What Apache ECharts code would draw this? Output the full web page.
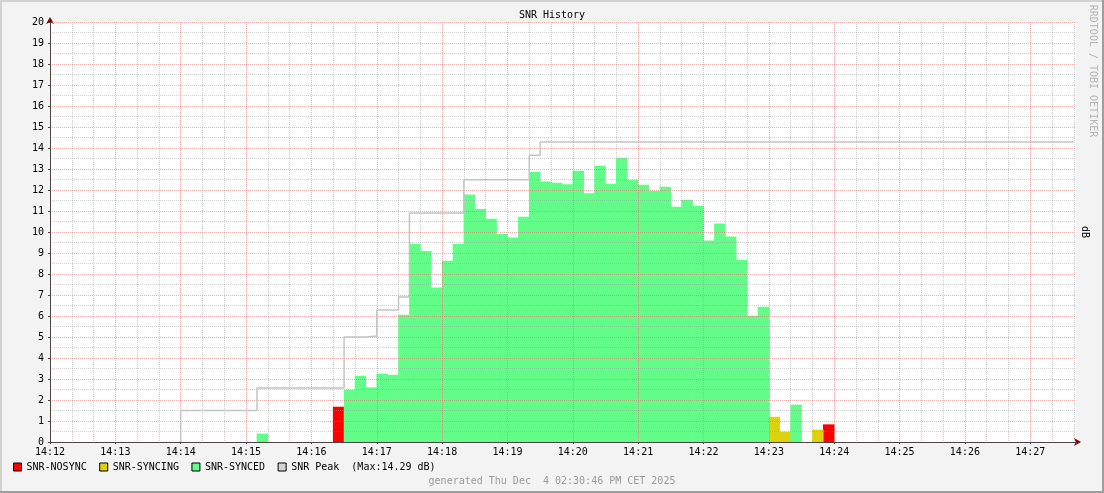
<!DOCTYPE html>
<html>
<head>
<meta charset="utf-8">
<title>SNR History</title>
<script src="https://cdn.jsdelivr.net/npm/echarts@6/dist/echarts.min.js"></script>
<style>
  html, body { margin: 0; padding: 0; background: #f3f3f3; }
  #chart { width: 1104px; height: 493px; }
</style>
</head>
<body>
<div id="chart"></div>
<script>
// start of each 10 s sample, in seconds after 14:12:00
const nosyncStart = [260, 710];
const nosyncSnr = [1.68, 0.84];

const syncingStart = [660, 670, 700];
const syncingSnr = [1.2, 0.49, 0.59];

const syncedStart = [190,
  270, 280, 290, 300, 310, 320, 330, 340, 350, 360,
  370, 380, 390, 400, 410, 420, 430, 440, 450, 460,
  470, 480, 490, 500, 510, 520, 530, 540, 550, 560,
  570, 580, 590, 600, 610, 620, 630, 640, 650,
  680];
const syncedSnr = [0.4,
  2.49, 3.16, 2.6, 3.25, 3.2, 6.06, 9.44, 9.1, 7.36, 8.63,
  9.44, 11.78, 11.1, 10.63, 9.92, 9.74, 10.73, 12.87, 12.4, 12.35,
  12.27, 12.92, 11.84, 13.16, 12.3, 13.54, 12.49, 12.25, 11.97, 12.16,
  11.2, 11.54, 11.25, 9.59, 10.4, 9.78, 8.68, 6.01, 6.44,
  1.78];

// peak holds its value from each start until the next one
const peakStart = [120, 120, 190, 270, 290, 300, 320, 330, 380, 440, 450, 940];
const peakSnr = [0, 1.5, 2.57, 5.0, 5.05, 6.28, 6.9, 10.9, 12.49, 13.65, 14.29, 14.29];

const timeTicks = ['14:12', '14:13', '14:14', '14:15', '14:16', '14:17', '14:18', '14:19',
  '14:20', '14:21', '14:22', '14:23', '14:24', '14:25', '14:26', '14:27'];

const STEP = 10;       // seconds per sample
const X_MAX = 942;     // visible window in seconds
const GRID_W = 1026;
const MONO = 'DejaVu Sans Mono';

const toBars = (starts, vals) => starts.map((s, k) => [s + STEP / 2, vals[k]]);
// a little wider than one sample so neighbouring bars don't leave seams
const barW = GRID_W * STEP / X_MAX + 0.6;
const peakMax = Math.max(...peakSnr).toFixed(2);

const majorGrid = 'rgba(228,110,110,0.55)';
const minorGrid = 'rgba(150,150,150,0.45)';
const axisColor = '#4a4444';
const arrowColor = '#860000';

const chart = echarts.init(document.getElementById('chart'));

chart.setOption({
  backgroundColor: '#f3f3f3',
  animation: false,
  title: {
    text: 'SNR History',
    left: 'center',
    top: 10,
    padding: 0,
    textStyle: { fontFamily: MONO, fontSize: 10, fontWeight: 'normal', color: '#000' }
  },
  legend: {
    left: 13,
    top: 462,
    padding: 0,
    itemWidth: 8,
    itemHeight: 8,
    itemGap: 12.5,
    icon: 'rect',
    itemStyle: { borderColor: '#000', borderWidth: 1 },
    textStyle: { fontFamily: MONO, fontSize: 10, color: '#000' },
    data: ['SNR-NOSYNC', 'SNR-SYNCING', 'SNR-SYNCED',
      { name: 'SNR Peak', itemStyle: { color: '#d4d4d4', borderColor: '#000', borderWidth: 1 } }],
    formatter: name => name === 'SNR Peak' ? 'SNR Peak  (Max:' + peakMax + ' dB)' : name
  },
  grid: {
    left: 50, top: 22, width: GRID_W, height: 420,
    show: true, backgroundColor: '#fff', borderWidth: 0
  },
  xAxis: [{
    type: 'value',
    min: 0, max: X_MAX, interval: 60,
    z: 3,
    axisLine: { lineStyle: { color: axisColor, width: 1 } },
    axisTick: { show: true, length: 2, lineStyle: { color: axisColor } },
    axisLabel: {
      margin: 5,
      fontFamily: MONO, fontSize: 10, color: '#000',
      formatter: v => (v % 60 === 0 ? timeTicks[v / 60] || '' : '')
    },
    splitLine: { show: true, showMaxLine: false, lineStyle: { color: majorGrid, type: [1, 1] } }
  }, {
    // 20 s grid and the red arrow head
    type: 'value',
    min: 0, max: X_MAX, interval: 20,
    position: 'bottom',
    z: 1,
    axisLine: {
      show: true,
      lineStyle: { color: arrowColor, width: 1 },
      symbol: ['none', 'arrow'], symbolSize: [6, 7], symbolOffset: [0, 5]
    },
    axisTick: { show: false },
    axisLabel: { show: false },
    splitLine: {
      show: true, showMaxLine: false,
      lineStyle: { color: ['rgba(0,0,0,0)', minorGrid, minorGrid], type: [1, 1] }
    }
  }],
  yAxis: [{
    type: 'value',
    min: 0, max: 20, interval: 1,
    z: 3,
    axisLine: { show: true, lineStyle: { color: axisColor, width: 1 } },
    axisTick: { show: true, length: 2, lineStyle: { color: axisColor } },
    axisLabel: { margin: 6, fontFamily: MONO, fontSize: 10, color: '#000' },
    splitLine: { show: true, lineStyle: { color: majorGrid, type: [1, 1] } },
    minorTick: { show: false, splitNumber: 2 },
    minorSplitLine: { show: true, lineStyle: { color: minorGrid, type: [1, 1] } }
  }, {
    type: 'value',
    min: 0, max: 20, interval: 1,
    position: 'left',
    z: 1,
    axisLine: {
      show: true,
      lineStyle: { color: arrowColor, width: 1 },
      symbol: ['none', 'arrow'], symbolSize: [6, 7], symbolOffset: [0, 5]
    },
    axisTick: { show: false },
    axisLabel: { show: false },
    splitLine: { show: false }
  }],
  series: [
    {
      name: 'SNR-NOSYNC', type: 'bar', barWidth: barW, barGap: '-100%',
      itemStyle: { color: '#ff0000' },
      data: toBars(nosyncStart, nosyncSnr)
    },
    {
      name: 'SNR-SYNCING', type: 'bar', barWidth: barW, barGap: '-100%',
      itemStyle: { color: '#ddd30c' },
      data: toBars(syncingStart, syncingSnr)
    },
    {
      name: 'SNR-SYNCED', type: 'bar', barWidth: barW, barGap: '-100%',
      itemStyle: { color: '#62fd88' },
      data: toBars(syncedStart, syncedSnr)
    },
    {
      name: 'SNR Peak', type: 'line', step: 'end', showSymbol: false, symbol: 'none',
      itemStyle: { color: '#d4d4d4' },
      lineStyle: { color: '#c4c4c4', width: 1.5 },
      z: 5,
      data: peakStart.map((s, k) => [s, peakSnr[k]])
    }
  ],
  graphic: [
    { type: 'rect', shape: { x: 0, y: 0, width: 1104, height: 2 }, style: { fill: '#d2d2d2' }, silent: true },
    { type: 'rect', shape: { x: 0, y: 0, width: 2, height: 493 }, style: { fill: '#d2d2d2' }, silent: true },
    { type: 'rect', shape: { x: 0, y: 491, width: 1104, height: 2 }, style: { fill: '#9e9e9e' }, silent: true },
    { type: 'rect', shape: { x: 1102, y: 0, width: 2, height: 493 }, style: { fill: '#9e9e9e' }, silent: true },
    {
      type: 'text', x: 1093, y: 71, rotation: -Math.PI / 2,
      style: { text: 'RRDTOOL / TOBI OETIKER', font: '10px "DejaVu Sans Mono"', fill: '#b4b4b4',
        align: 'center', verticalAlign: 'middle' }
    },
    {
      type: 'text', x: 1085, y: 232, rotation: -Math.PI / 2,
      style: { text: 'dB', font: '10px "DejaVu Sans Mono"', fill: '#000',
        align: 'center', verticalAlign: 'middle' }
    },
    {
      type: 'text', x: 552, y: 481,
      style: { text: 'generated Thu Dec  4 02:30:46 PM CET 2025', font: '10px "DejaVu Sans Mono"',
        fill: '#9a9a9a', align: 'center', verticalAlign: 'middle' }
    }
  ]
});
</script>
</body>
</html>
